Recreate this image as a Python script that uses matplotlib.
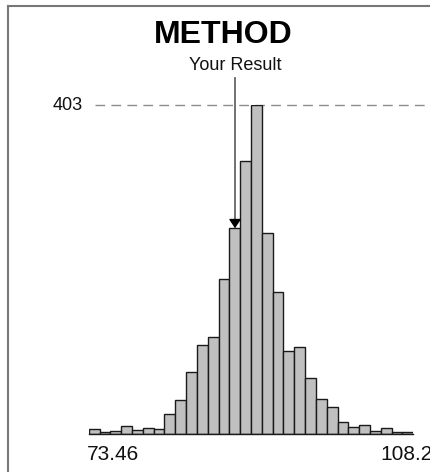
import numpy as np
import matplotlib
matplotlib.use("Agg")
import matplotlib.pyplot as plt
from matplotlib.lines import Line2D
import matplotlib.transforms as mtransforms

plt.rcParams['font.family'] = ['Liberation Sans', 'DejaVu Sans']

# ---- data ----
title = "METHOD"
x_min = 73.46
x_max = 108.2
counts = [6, 2, 4, 10, 5, 7, 6, 24, 42, 76, 109, 119, 190, 252, 334, 403,
          246, 174, 102, 106, 69, 43, 33, 15, 9, 11, 4, 7, 3, 3]
your_result = 89.12
result_label = "Your Result"
x_labels = ["73.46", "108.2"]

# ---- figure ----
W, H, DPI = 430, 472, 100
fig = plt.figure(figsize=(W / DPI, H / DPI), dpi=DPI)
fig.patch.set_facecolor('white')

ax_left, ax_right = 88.7, 413.3
ax_bottom, ax_top = 434.0, 105.0
ax = fig.add_axes([ax_left / W, 1 - ax_bottom / H,
                   (ax_right - ax_left) / W, (ax_bottom - ax_top) / H])
ax.set_axis_off()

n = len(counts)
edges = np.linspace(x_min, x_max, n + 1)
widths = np.diff(edges)
peak = max(counts)
ax.bar(edges[:-1], counts, width=widths, align='edge', color='#c0c0c0',
       edgecolor='#1a1a1a', linewidth=1.0, zorder=2)
ax.set_xlim(x_min, x_max)
ax.set_ylim(0, peak)

# baseline
ax.plot([x_min, x_max], [0, 0], color='#1a1a1a', lw=1.0, zorder=3, clip_on=False)

# dashed peak line
blend = mtransforms.blended_transform_factory(ax.transAxes, ax.transData)
ax.plot([0.019, 1.1], [peak, peak], transform=blend, color='#8c8c8c',
        lw=1.0, dashes=(7, 4.5), clip_on=False, zorder=1)
ax.annotate(str(peak), xy=(0, peak), xycoords=blend, xytext=(-4, 0),
            textcoords='offset points', ha='right', va='center',
            fontsize=13, color='#111111', annotation_clip=False)

# result arrow
bin_idx = int(np.searchsorted(edges, your_result) - 1)
tip = counts[bin_idx]
top_y = peak * (ax_bottom - 78) / (ax_bottom - ax_top)
ax.plot([your_result, your_result], [tip + 8, top_y], color='#666666', lw=1.3,
        clip_on=False, zorder=4)
ax.annotate('', xy=(your_result, tip), xytext=(your_result, tip + 9),
            arrowprops=dict(arrowstyle='-|>,head_length=0.45,head_width=0.3',
                            color='black', lw=1.0, shrinkA=0, shrinkB=0,
                            mutation_scale=12),
            annotation_clip=False, zorder=5)
ax.annotate(result_label, xy=(your_result, top_y), xytext=(0, 3),
            textcoords='offset points', ha='center', va='bottom',
            fontsize=13, color='#111111', annotation_clip=False)

# x labels
ax.annotate(x_labels[0], xy=(x_min, 0), xytext=(-1.2, -18.5),
            textcoords='offset points', ha='left', va='baseline',
            fontsize=15, color='#111111', annotation_clip=False)
ax.annotate(x_labels[1], xy=(x_max, 0), xytext=(-24, -18.5),
            textcoords='offset points', ha='left', va='baseline',
            fontsize=15, color='#111111', annotation_clip=False)

# title
fig.text(223 / W, 1 - 43.3 / H, title, ha='center', va='baseline',
         fontsize=23, fontweight='bold', color='black')

# frame
fx, fy = 8.3 / W, 1 - 5.7 / H
fig.add_artist(Line2D([fx, fx], [0, fy], transform=fig.transFigure,
                      color='#777777', lw=1.5))
fig.add_artist(Line2D([fx, 1.0], [fy, fy], transform=fig.transFigure,
                      color='#777777', lw=1.5))

fig.savefig('out.png', dpi=DPI)
